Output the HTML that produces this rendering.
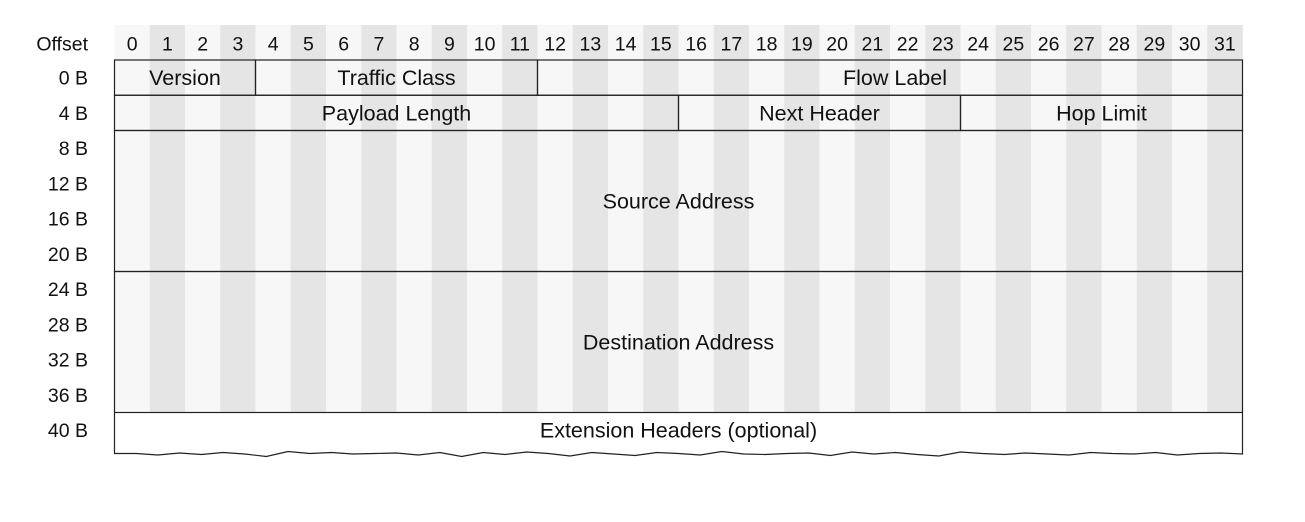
<!DOCTYPE html>
<html><head><meta charset="utf-8"><style>
html,body{margin:0;padding:0;background:#fff;}
svg{display:block;font-family:"Liberation Sans",Arial,sans-serif;}
</style></head><body>
<svg id="chart" width="1305" height="522" viewBox="0 0 1305 522"></svg>
<script>
const bits = Array.from({length:32},(_,i)=>String(i));
const rowLabels = ["0 B","4 B","8 B","12 B","16 B","20 B","24 B","28 B","32 B","36 B","40 B"];
const fieldNames = ["Version","Traffic Class","Flow Label","Payload Length","Next Header","Hop Limit","Source Address","Destination Address","Extension Headers (optional)"];
const fieldRow = [0,0,0,1,1,1,2,6,10];
const fieldStart = [0,4,12,0,16,24,0,0,0];
const fieldBits = [4,8,20,16,8,8,32,32,32];
const fieldRows = [1,1,1,1,1,1,4,4,1];

const NS="http://www.w3.org/2000/svg";
const svg=document.getElementById('chart');
const X0=114.5, X1=1242.5, CW=(X1-X0)/32, Y0=60, RH=35.25;
const xs=b=>X0+b*CW, ys=r=>Y0+r*RH;
function mk(t,a){const e=document.createElementNS(NS,t);for(const k in a)e.setAttribute(k,a[k]);svg.appendChild(e);return e;}
bits.forEach((b,i)=>{
  const r=mk('rect',{x:xs(i),y:25,width:CW+0.3,height:ys(10)-25,fill:i%2?'#e5e5e5':'#f7f7f7'});
  
  
  const t=mk('text',{x:xs(i)+CW/2,y:50.5,'text-anchor':'middle','font-size':19.5,fill:'#111'});
  t.textContent=b;
  
  
});
const ot=mk('text',{x:88,y:50.5,'text-anchor':'end','font-size':19.5,fill:'#111'});ot.textContent='Offset';


rowLabels.forEach((l,i)=>{
  const t=mk('text',{x:88,y:ys(i)+RH/2+7,'text-anchor':'end','font-size':19.5,fill:'#111'});
  t.textContent=l;
  
  
});
const ext=mk('rect',{x:X0,y:ys(10),width:X1-X0,height:RH+10,fill:'#fff'});


fieldNames.forEach((n,i)=>{
  const x=xs(fieldStart[i]), w=fieldBits[i]*CW, y=ys(fieldRow[i]), h=fieldRows[i]*RH;
  if(i<8){
    const r=mk('rect',{x,y,width:w,height:h,fill:'none',stroke:'#222','stroke-width':1.2});
    
    
  }
  const t=mk('text',{x:x+w/2+(i==2?5:0),y:y+h/2+7.5,'text-anchor':'middle','font-size':21.5,fill:'#111'});
  t.textContent=n;
  
  
});
const yb=ys(10)+41;
const wav=[0,1.5,-0.5,1,-1,0.5,3,-2,0,-1,0.5,0,-0.5,1.5,-1,3,-1,1,-1.5,0,2.5,-1,0.5,2,-1,0,1.5,-2,0.5,1,0,-0.5,2,-1.5,0.5,-1,1,2.5,-1.5,0,1,-0.5,0.5,1.5,-1,0,0.5,-1,1.5,0,-0.5,0.5];
let d=`M${X0},${ys(10)} L${X0},${yb}`;
wav.forEach((v,i)=>{d+=` L${(X0+(i+1)*(X1-X0)/wav.length).toFixed(1)},${(yb+v).toFixed(1)}`;});
d+=` L${X1},${ys(10)}`;
const p=mk('path',{d,fill:'none',stroke:'#222','stroke-width':1.2});


</script>
</body></html>
